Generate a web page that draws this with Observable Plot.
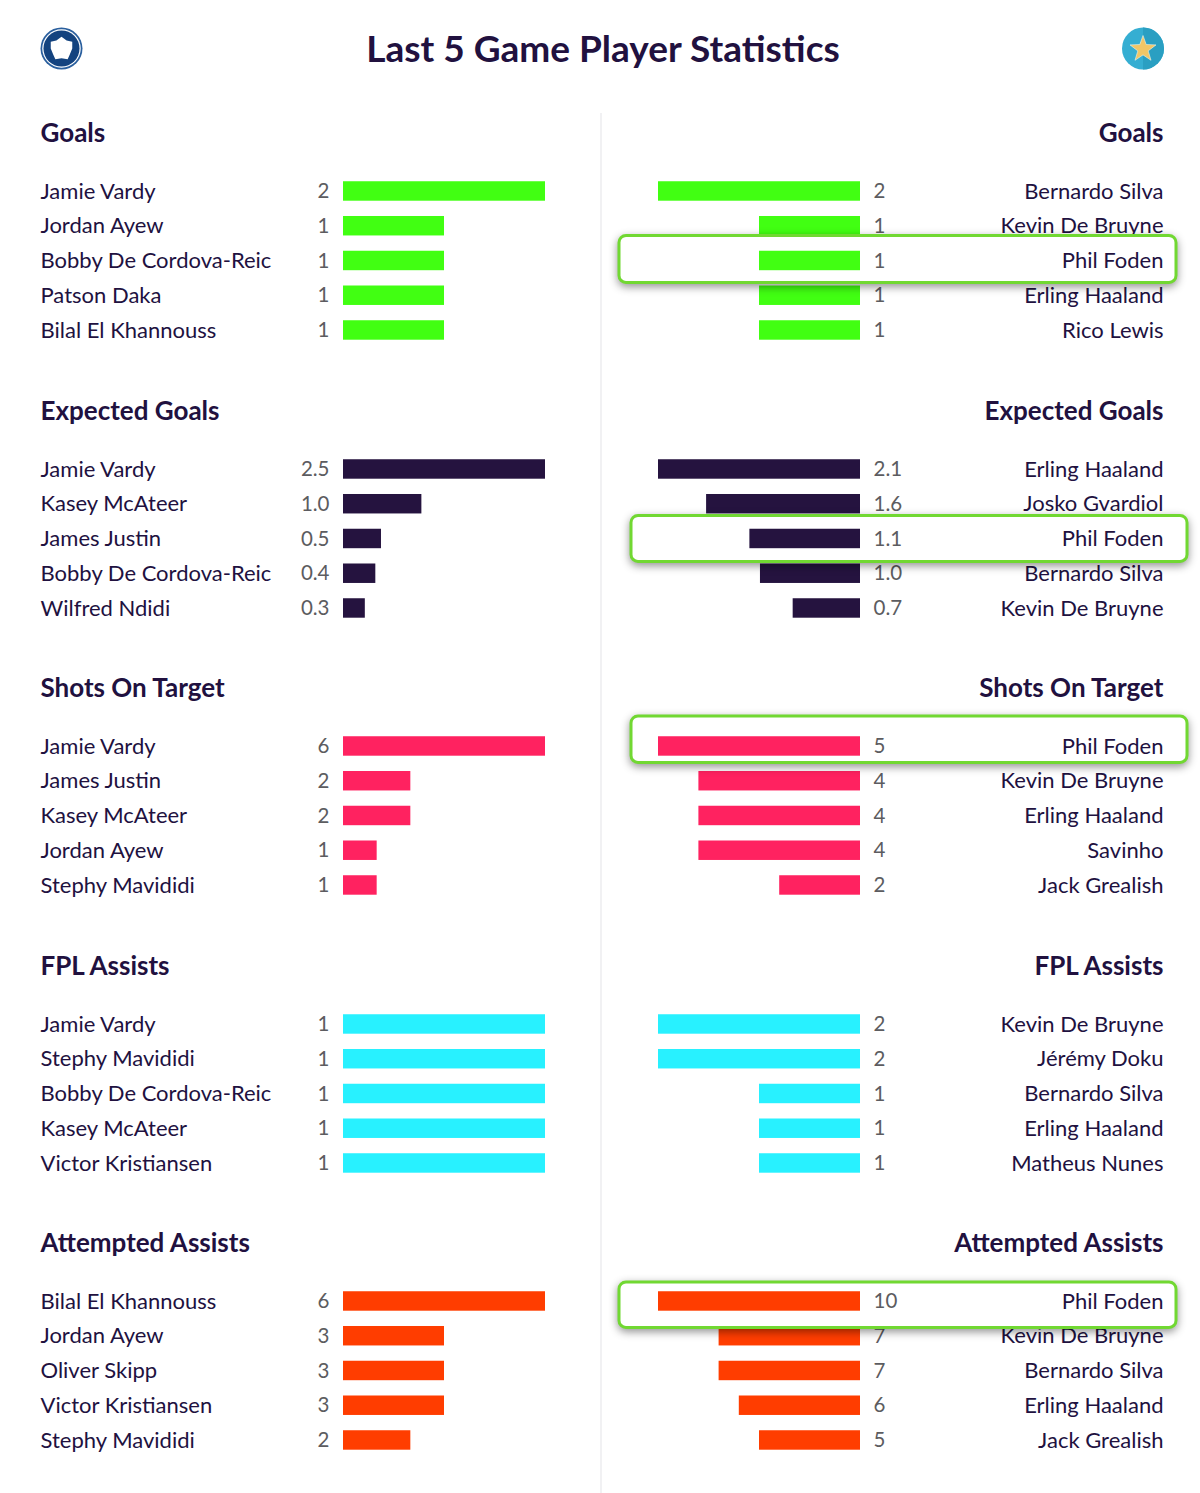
<!DOCTYPE html>
<html>
<head>
<meta charset="utf-8">
<script src="https://cdn.jsdelivr.net/npm/d3@7"></script>
<script src="https://cdn.jsdelivr.net/npm/@observablehq/plot@0.6"></script>
<style>
html,body{margin:0;padding:0;background:#fff;}
#page{position:relative;width:1200px;height:1493px;overflow:hidden;font-family:Lato,sans-serif;color:#21113f;}
#title{position:absolute;left:0;width:1206px;top:26px;text-align:center;font-size:37px;font-weight:700;line-height:44px;}
.icon{position:absolute;top:27px;}
#divider{position:absolute;left:600px;top:113px;width:2px;bottom:0;background:#f1f1f3;}
.panel{position:absolute;width:600px;height:277.5px;}
.panel svg{overflow:visible;display:block;background:transparent;}
g[aria-label="cell"]{filter:drop-shadow(0 3px 4px rgba(0,0,0,.42));}
</style>
</head>
<body>
<div id="page">
  <div id="title">Last 5 Game Player Statistics</div>
  <svg class="icon" style="left:40px" width="43" height="43" viewBox="0 0 42 42">
    <circle cx="21" cy="21" r="20.5" fill="#2a5f9e"/>
    <circle cx="21" cy="21" r="18.8" fill="#fff"/>
    <circle cx="21" cy="21" r="17.6" fill="#14437f"/>
    <path fill="#fff" d="M21 9.5 L26 13.2 L31.5 14.4 L31.5 21 L29 27 L27 31.5 L21 30.5 L15 31.5 L13 27 L10.5 21 L10.5 14.4 L16 13.2 Z"/>
  </svg>
  <svg class="icon" style="left:1122px" width="42" height="43" viewBox="0 0 42 42">
    <circle cx="21" cy="21" r="21" fill="#35aed2"/>
    <path d="M21 0 A21 21 0 0 1 21 42 Z" fill="#2a9fc2"/>
    <polygon points="21,8 24.2,17 34,17.4 26.2,23.4 29,32.8 21,27.4 13,32.8 15.8,23.4 8,17.4 17.8,17" fill="#f1c666" stroke="#eaf3ee" stroke-width="0.6"/>
  </svg>
  <div id="divider"></div>
  <div id="panels"></div>
</div>
<script>
const statNames = ["Goals", "Expected Goals", "Shots On Target", "FPL Assists", "Attempted Assists"];
const statColors = ["#41ff12", "#25133f", "#ff2260", "#28f1ff", "#ff3d00"];

const leftNames = [
  ["Jamie Vardy", "Jordan Ayew", "Bobby De Cordova-Reic", "Patson Daka", "Bilal El Khannouss"],
  ["Jamie Vardy", "Kasey McAteer", "James Justin", "Bobby De Cordova-Reic", "Wilfred Ndidi"],
  ["Jamie Vardy", "James Justin", "Kasey McAteer", "Jordan Ayew", "Stephy Mavididi"],
  ["Jamie Vardy", "Stephy Mavididi", "Bobby De Cordova-Reic", "Kasey McAteer", "Victor Kristiansen"],
  ["Bilal El Khannouss", "Jordan Ayew", "Oliver Skipp", "Victor Kristiansen", "Stephy Mavididi"]
];
const leftValues = [
  [2, 1, 1, 1, 1],
  [2.5, 0.97, 0.47, 0.4, 0.27],
  [6, 2, 2, 1, 1],
  [1, 1, 1, 1, 1],
  [6, 3, 3, 3, 2]
];
const leftLabels = [
  ["2", "1", "1", "1", "1"],
  ["2.5", "1.0", "0.5", "0.4", "0.3"],
  ["6", "2", "2", "1", "1"],
  ["1", "1", "1", "1", "1"],
  ["6", "3", "3", "3", "2"]
];
const rightNames = [
  ["Bernardo Silva", "Kevin De Bruyne", "Phil Foden", "Erling Haaland", "Rico Lewis"],
  ["Erling Haaland", "Josko Gvardiol", "Phil Foden", "Bernardo Silva", "Kevin De Bruyne"],
  ["Phil Foden", "Kevin De Bruyne", "Erling Haaland", "Savinho", "Jack Grealish"],
  ["Kevin De Bruyne", "Jérémy Doku", "Bernardo Silva", "Erling Haaland", "Matheus Nunes"],
  ["Phil Foden", "Kevin De Bruyne", "Bernardo Silva", "Erling Haaland", "Jack Grealish"]
];
const rightValues = [
  [2, 1, 1, 1, 1],
  [2.1, 1.6, 1.15, 1.04, 0.7],
  [5, 4, 4, 4, 2],
  [2, 2, 1, 1, 1],
  [10, 7, 7, 6, 5]
];
const rightLabels = [
  ["2", "1", "1", "1", "1"],
  ["2.1", "1.6", "1.1", "1.0", "0.7"],
  ["5", "4", "4", "4", "2"],
  ["2", "2", "1", "1", "1"],
  ["10", "7", "7", "6", "5"]
];
const highlightPlayer = "Phil Foden";

// Layout and style (pixels)
const ink = "#21113f", grey = "#5c5c60", boxGreen = "#71d832";
const nameFont = {fontFamily: "Lato, sans-serif", fontSize: 22};
const valueFont = {fontFamily: "Lato, sans-serif", fontSize: 20.5};
const headFont = {fontFamily: "Lato, sans-serif", fontSize: 26, fontWeight: 700};
// box extents relative to the bar band, per stat: [left, right, top, bottom] outset
const boxOutset = [
  [39, 316, 15.25, 12.25],
  [27, 327, 13.25, 13.25],
  [27, 327, 20.25, 6.75],
  null,
  [39, 316, 9.25, 16.75]
];
const panelTop = i => 105 + 277.5 * i;

function panel(side, i) {
  const isLeft = side === "left";
  const names = (isLeft ? leftNames : rightNames)[i];
  const vals = (isLeft ? leftValues : rightValues)[i];
  const labs = (isLeft ? leftLabels : rightLabels)[i];
  const rows = names.map((name, j) => ({name, value: vals[j], label: labs[j]}));
  const color = statColors[i];
  const textX = isLeft ? -303 : 303;
  const rowMarks = data => [
    Plot.barX(data, {x: "value", y: "name", fill: color}),
    Plot.text(data, {
      x: () => 0, y: "name", text: "label", fill: grey,
      textAnchor: isLeft ? "end" : "start", dx: isLeft ? -14 : 13, ...valueFont
    }),
    Plot.text(data, {
      y: "name", text: "name", fill: ink, frameAnchor: isLeft ? "left" : "right",
      textAnchor: isLeft ? "start" : "end", dx: textX, ...nameFont
    })
  ];
  const hi = isLeft ? [] : rows.filter(d => d.name === highlightPlayer);
  const box = boxOutset[i];
  const marks = [
    rowMarks(rows),
    hi.length && box ? [
      Plot.cell(hi, {
        y: "name", fill: "white", stroke: boxGreen, strokeWidth: 3, rx: 7,
        insetLeft: -box[0], insetRight: -box[1], insetTop: -box[2], insetBottom: -box[3]
      }),
      rowMarks(hi)
    ] : [],
    Plot.text([statNames[i]], {
      text: d => d, frameAnchor: isLeft ? "top-left" : "top-right",
      textAnchor: isLeft ? "start" : "end", dx: textX, dy: -50.6, fill: ink, ...headFont
    })
  ];
  const chart = Plot.plot({
    width: 600, height: 277.5,
    marginLeft: isLeft ? 343 : 58, marginRight: isLeft ? 55 : 340,
    marginTop: 68.6, marginBottom: 35.15,
    x: {axis: null, domain: [0, d3.max(vals)], reverse: !isLeft},
    y: {axis: null, domain: names, paddingInner: 0.44, paddingOuter: 0.22, round: false, label: null},
    style: {background: "transparent"},
    marks
  });
  const div = document.createElement("div");
  div.className = "panel";
  div.style.left = (isLeft ? 0 : 600) + "px";
  div.style.top = panelTop(i) + "px";
  div.appendChild(chart);
  return div;
}
const host = document.getElementById("panels");
statNames.forEach((_, i) => {
  host.appendChild(panel("left", i));
  host.appendChild(panel("right", i));
});
</script>
</body>
</html>
